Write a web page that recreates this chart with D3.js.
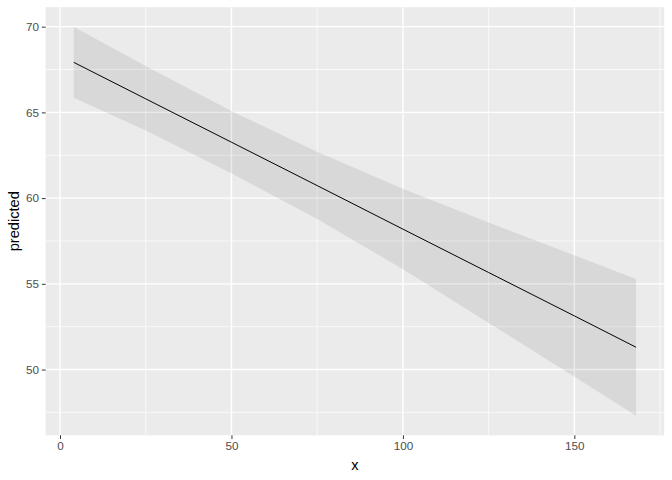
<!DOCTYPE html>
<html>
<head>
<meta charset="utf-8">
<script src="https://cdn.jsdelivr.net/npm/d3@7"></script>
<style>
  body { margin: 0; background: #fff; }
  text { font-family: "Liberation Sans", Arial, sans-serif; }
</style>
</head>
<body>
<div class="graph"></div>
<script>
// values
var xs        = [4, 25, 50, 75, 100, 125, 150, 168];
var predicted = [67.92, 65.79, 63.26, 60.73, 58.19, 55.66, 53.13, 51.30];
var confHigh  = [70.00, 67.70, 65.08, 62.70, 60.55, 58.58, 56.66, 55.28];
var confLow   = [65.85, 63.95, 61.44, 58.78, 55.85, 52.72, 49.58, 47.30];

var xTicks = [0, 50, 100, 150];
var yTicks = [50, 55, 60, 65, 70];
var xMinor = [25, 75, 125, 175];
var yMinor = [47.5, 52.5, 57.5, 62.5, 67.5];

var W = 672, H = 480;
var panel = {left: 45.6, right: 664.2, top: 7.2, bottom: 435.3};

var data = xs.map(function(x, i) {
  return {x: x, y: predicted[i], lo: confLow[i], hi: confHigh[i]};
});

// ggplot style 5% expansion
var xr = d3.extent(xs), xpad = (xr[1] - xr[0]) * 0.05;
var yr = [d3.min(confLow), d3.max(confHigh)], ypad = (yr[1] - yr[0]) * 0.05;

var x = d3.scaleLinear().domain([xr[0] - xpad, xr[1] + xpad]).range([panel.left, panel.right]);
var y = d3.scaleLinear().domain([yr[0] - ypad, yr[1] + ypad]).range([panel.bottom, panel.top]);

var svg = d3.select(".graph").append("svg")
    .attr("width", W)
    .attr("height", H);

svg.append("rect")
    .attr("x", panel.left).attr("y", panel.top)
    .attr("width", panel.right - panel.left)
    .attr("height", panel.bottom - panel.top)
    .attr("fill", "#ebebeb");

var grid = svg.append("g");

// minor gridlines
grid.selectAll(".xminor").data(xMinor.filter(function(d){ return x(d) < panel.right; }))
  .enter().append("line")
    .attr("x1", function(d){ return x(d); }).attr("x2", function(d){ return x(d); })
    .attr("y1", panel.top).attr("y2", panel.bottom)
    .attr("stroke", "#fff").attr("stroke-width", 0.7);
grid.selectAll(".yminor").data(yMinor)
  .enter().append("line")
    .attr("y1", function(d){ return y(d); }).attr("y2", function(d){ return y(d); })
    .attr("x1", panel.left).attr("x2", panel.right)
    .attr("stroke", "#fff").attr("stroke-width", 0.7);

// major gridlines
grid.selectAll(".xmajor").data(xTicks)
  .enter().append("line")
    .attr("x1", function(d){ return x(d); }).attr("x2", function(d){ return x(d); })
    .attr("y1", panel.top).attr("y2", panel.bottom)
    .attr("stroke", "#fff").attr("stroke-width", 1.4);
grid.selectAll(".ymajor").data(yTicks)
  .enter().append("line")
    .attr("y1", function(d){ return y(d); }).attr("y2", function(d){ return y(d); })
    .attr("x1", panel.left).attr("x2", panel.right)
    .attr("stroke", "#fff").attr("stroke-width", 1.4);

// confidence ribbon
var area = d3.area()
    .x(function(d){ return x(d.x); })
    .y0(function(d){ return y(d.lo); })
    .y1(function(d){ return y(d.hi); });

svg.append("path")
    .datum(data)
    .attr("d", area)
    .attr("fill", "#000")
    .attr("fill-opacity", 0.08);

// predicted line
var line = d3.line()
    .x(function(d){ return x(d.x); })
    .y(function(d){ return y(d.y); });

svg.append("path")
    .datum(data)
    .attr("d", line)
    .attr("fill", "none")
    .attr("stroke", "#000")
    .attr("stroke-width", 1);

// axes
var xAxis = d3.axisBottom(x).tickValues(xTicks).tickSize(3.7).tickPadding(3);
var yAxis = d3.axisLeft(y).tickValues(yTicks).tickSize(3.7).tickPadding(3);

var gx = svg.append("g")
    .attr("transform", "translate(0," + panel.bottom + ")")
    .call(xAxis);
var gy = svg.append("g")
    .attr("transform", "translate(" + panel.left + ",0)")
    .call(yAxis);

[gx, gy].forEach(function(g) {
  g.select(".domain").remove();
  g.selectAll(".tick line").attr("stroke", "#333").attr("stroke-width", 1);
  g.selectAll(".tick text")
    .attr("fill", "#4d4d4d")
    .style("font-size", "11.7px");
});

svg.append("text")
    .attr("x", (panel.left + panel.right) / 2)
    .attr("y", 470)
    .attr("text-anchor", "middle")
    .style("font-size", "14.6px")
    .text("x");

svg.append("text")
    .attr("transform", "translate(19," + ((panel.top + panel.bottom) / 2) + ") rotate(-90)")
    .attr("text-anchor", "middle")
    .style("font-size", "14.6px")
    .text("predicted");
</script>
</body>
</html>
